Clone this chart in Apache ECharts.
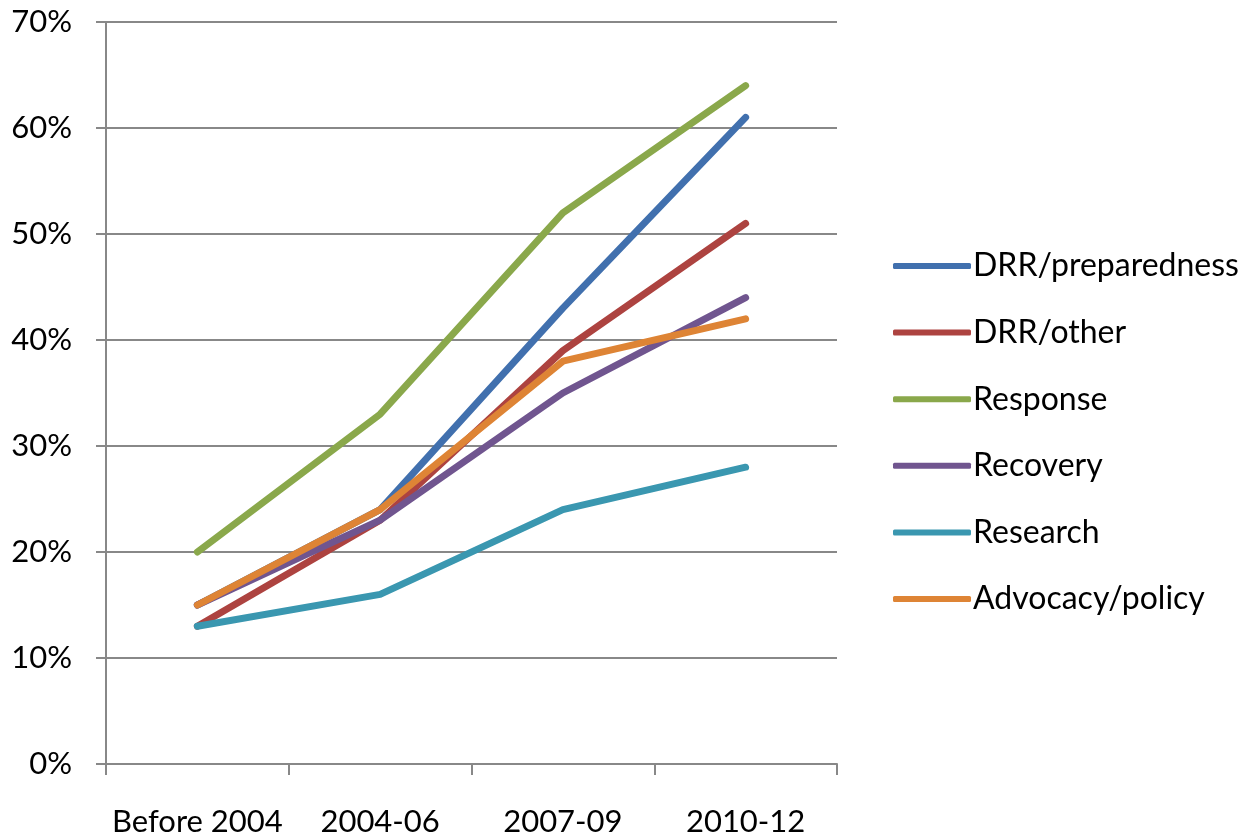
<!DOCTYPE html>
<html>
<head>
<meta charset="utf-8">
<script src="https://cdn.jsdelivr.net/npm/echarts@6/dist/echarts.min.js"></script>
<style>
  html, body { margin: 0; padding: 0; background: #fff; }
  #chart { width: 1256px; height: 837px; }
</style>
</head>
<body>
<div id="chart"></div>
<script>
// 数据
var categories = ['Before 2004', '2004-06', '2007-09', '2010-12'];
var drrPreparedness = [15, 24, 43, 61];
var drrOther = [13, 23, 39, 51];
var response = [20, 33, 52, 64];
var recovery = [15, 23, 35, 44];
var research = [13, 16, 24, 28];
var advocacyPolicy = [15, 24, 38, 42];

var seriesNames = ['DRR/preparedness', 'DRR/other', 'Response', 'Recovery', 'Research', 'Advocacy/policy'];
var seriesData = [drrPreparedness, drrOther, response, recovery, research, advocacyPolicy];
var colors = ['#4170AE', '#AD4340', '#8AA84B', '#70558F', '#3A97B0', '#DE8435'];

var font = 'Lato, "Open Sans", sans-serif';
var axisColor = '#888888';

var chart = echarts.init(document.getElementById('chart'));

var option = {
  animation: false,
  color: colors,
  grid: {
    left: 106,
    right: 1256 - 837,
    top: 22,
    bottom: 837 - 764,
    containLabel: false
  },
  legend: {
    orient: 'vertical',
    left: 888,
    top: 245,
    data: seriesNames,
    icon: 'roundRect',
    itemWidth: 78,
    itemHeight: 6,
    itemGap: 34.6,
    textStyle: {
      fontFamily: font,
      fontSize: 32,
      color: '#000',
      lineHeight: 30,
      padding: [0, 0, 0, -3]
    }
  },
  xAxis: {
    type: 'category',
    data: categories,
    boundaryGap: true,
    axisLine: { lineStyle: { color: axisColor, width: 2 } },
    axisTick: { show: true, length: 11, lineStyle: { color: axisColor, width: 2 } },
    axisLabel: {
      interval: 0,
      margin: 42,
      color: '#000',
      fontFamily: font,
      fontSize: 31
    },
    splitLine: { show: false }
  },
  yAxis: {
    type: 'value',
    min: 0,
    max: 70,
    interval: 10,
    axisLine: { show: true, lineStyle: { color: axisColor, width: 2 } },
    axisTick: { show: true, length: 10, lineStyle: { color: axisColor, width: 2 } },
    axisLabel: {
      margin: 34,
      color: '#000',
      fontFamily: font,
      fontSize: 31,
      formatter: '{value}%'
    },
    splitLine: { lineStyle: { color: axisColor, width: 2 } }
  },
  series: seriesNames.map(function (name, i) {
    return {
      name: name,
      type: 'line',
      data: seriesData[i],
      symbol: 'none',
      lineStyle: { width: 7, cap: 'round', join: 'round' }
    };
  })
};

chart.setOption(option);
</script>
</body>
</html>
